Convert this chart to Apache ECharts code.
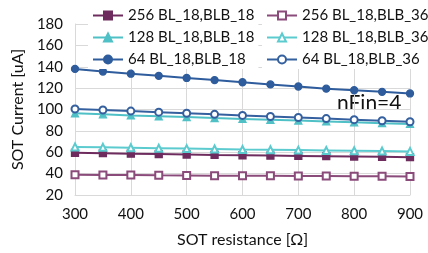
<!DOCTYPE html>
<html>
<head>
<meta charset="utf-8">
<script src="https://cdn.jsdelivr.net/npm/echarts@6/dist/echarts.min.js"></script>
<style>
html, body { margin: 0; padding: 0; background: #fff; }
#chart { width: 428px; height: 253px; }
</style>
</head>
<body>
<div id="chart"></div>
<script>
// 横轴: SOT 电阻
var resistance = [300, 350, 400, 450, 500, 550, 600, 650, 700, 750, 800, 850, 900];

var names = ['256 BL_18,BLB_18', '256 BL_18,BLB_36',
             '128 BL_18,BLB_18', '128 BL_18,BLB_36',
             '64 BL_18,BLB_18', '64 BL_18,BLB_36'];

var bl256_18 = [59.5, 59.1, 58.7, 58.3, 57.9, 57.5, 57.2, 56.9, 56.6, 56.3, 56, 55.7, 55.4];
var bl256_36 = [39, 38.8, 38.6, 38.4, 38.3, 38.1, 38, 37.9, 37.8, 37.7, 37.6, 37.5, 37.4];
var bl128_18 = [96.5, 95.5, 94.5, 93.7, 92.9, 92, 91.2, 90.4, 89.6, 88.8, 88, 87.2, 86.5];
var bl128_36 = [65, 64.6, 64.2, 63.8, 63.4, 63, 62.6, 62.3, 62, 61.7, 61.4, 61.1, 60.8];
var bl64_18 = [138, 135.5, 133.5, 131.5, 129.5, 127.5, 125.5, 123.5, 121.5, 119.5, 118, 116.5, 115];
var bl64_36 = [100.5, 99.5, 98.5, 97.5, 96.5, 95.5, 94.5, 93.5, 92.5, 91.5, 90.5, 89.5, 88.5];

var FONT = 'Lato';

function pairs(ys) {
    return resistance.map(function (x, i) { return [x, ys[i]]; });
}

function mk(name, ys, color, symbol) {
    return {
        name: name,
        type: 'line',
        data: pairs(ys),
        symbol: symbol,
        symbolSize: 7,
        lineStyle: { color: color, width: 2 },
        itemStyle: { color: color, borderColor: color, borderWidth: 1.3 },
        emphasis: { disabled: true },
        animation: false
    };
}

var myChart = echarts.init(document.getElementById('chart'));

var legendText = { fontFamily: FONT, fontSize: 15, color: '#111' };

var option = {
    backgroundColor: '#fff',
    grid: { left: 75, right: 18, top: 24, bottom: 54 },
    legend: [{
        data: [names[0], names[2], names[4]],
        orient: 'vertical',
        left: 88, top: 6,
        itemWidth: 30, itemHeight: 10, itemGap: 7,
        backgroundColor: '#fff',
        padding: [2, 4, 2, 4],
        textStyle: legendText
    }, {
        data: [names[1], names[3], names[5]],
        orient: 'vertical',
        left: 262, top: 6,
        itemWidth: 30, itemHeight: 10, itemGap: 7,
        backgroundColor: '#fff',
        padding: [2, 4, 2, 4],
        textStyle: legendText
    }],
    xAxis: {
        type: 'value',
        min: 300, max: 900, interval: 100,
        name: 'SOT resistance [Ω]',
        nameLocation: 'middle',
        nameGap: 37,
        nameTextStyle: { fontFamily: FONT, fontSize: 16, color: '#111' },
        axisLine: { show: true, lineStyle: { color: '#d9d9d9' } },
        axisTick: { show: false },
        axisLabel: { fontFamily: FONT, fontSize: 15, color: '#111', margin: 12 },
        splitLine: { show: true, lineStyle: { color: '#d9d9d9' } }
    },
    yAxis: {
        type: 'value',
        min: 20, max: 180, interval: 20,
        name: 'SOT Current [uA]',
        nameLocation: 'middle',
        nameGap: 48,
        nameTextStyle: { fontFamily: FONT, fontSize: 16, color: '#111' },
        axisLine: { show: true, lineStyle: { color: '#d9d9d9' } },
        axisTick: { show: false },
        axisLabel: { fontFamily: FONT, fontSize: 15, color: '#111', margin: 12 },
        splitLine: { show: true, lineStyle: { color: '#d9d9d9' } }
    },
    graphic: [{
        type: 'text',
        left: 337, top: 93,
        style: { text: 'nFin=4', font: '21px ' + FONT, fill: '#111' }
    }],
    series: [
        mk(names[0], bl256_18, '#6e2c5e', 'rect'),
        mk(names[1], bl256_36, '#8a4a7a', 'emptyRect'),
        mk(names[2], bl128_18, '#4fc1c6', 'triangle'),
        mk(names[3], bl128_36, '#5ccbcf', 'emptyTriangle'),
        mk(names[4], bl64_18, '#2e5c9c', 'circle'),
        mk(names[5], bl64_36, '#35609f', 'emptyCircle')
    ]
};

myChart.setOption(option);
</script>
</body>
</html>
